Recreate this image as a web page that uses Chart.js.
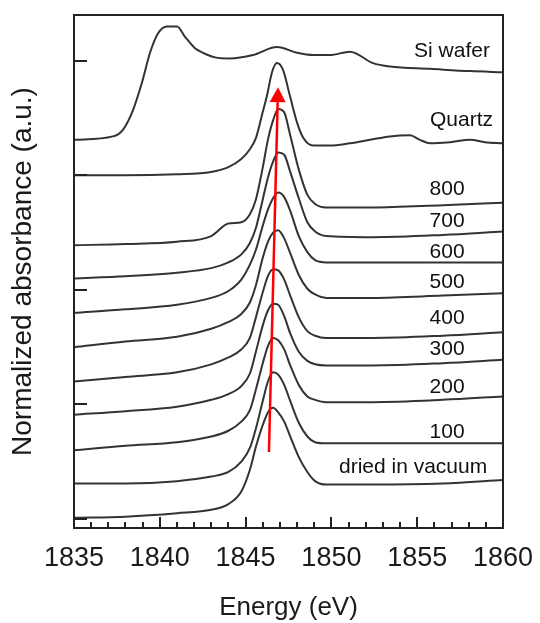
<!DOCTYPE html>
<html>
<head>
<meta charset="utf-8">
<script src="https://cdn.jsdelivr.net/npm/chart.js@4"></script>
<style>
  body { margin: 0; background: #fff; }
  #wrap { width: 540px; height: 623px; }
</style>
</head>
<body>
<div id="wrap"><canvas id="xanes"></canvas></div>
<script>
// ===== Data =====
// common energy grid for the heat-treated samples
const energy = [1835, 1838, 1841, 1843, 1844, 1844.75, 1845.25, 1845.6, 1846, 1846.3, 1846.6,
                1846.9, 1847.25, 1847.6, 1848.1, 1848.6, 1849.05, 1849.7, 1852.4, 1856.5, 1860];

const dried = [0.01, 0.02, 0.05, 0.08, 0.13, 0.24, 0.43, 0.63, 0.82, 0.93, 0.97,
               0.93, 0.85, 0.72, 0.54, 0.41, 0.33, 0.30, 0.30, 0.31, 0.34];
const t100  = [0.31, 0.31, 0.33, 0.37, 0.41, 0.50, 0.62, 0.79, 1.03, 1.20, 1.28,
               1.26, 1.17, 1.03, 0.84, 0.72, 0.67, 0.66, 0.66, 0.66, 0.66];
const t200  = [0.60, 0.64, 0.67, 0.72, 0.77, 0.85, 0.95, 1.13, 1.36, 1.51, 1.58,
               1.56, 1.48, 1.34, 1.17, 1.07, 1.04, 1.02, 1.02, 1.04, 1.07];
const t300  = [0.91, 0.94, 0.98, 1.04, 1.09, 1.16, 1.27, 1.46, 1.69, 1.82, 1.88,
               1.87, 1.77, 1.62, 1.46, 1.38, 1.35, 1.34, 1.34, 1.36, 1.39];
const t400  = [1.20, 1.24, 1.28, 1.35, 1.41, 1.48, 1.58, 1.76, 1.98, 2.12, 2.18,
               2.17, 2.09, 1.95, 1.76, 1.64, 1.60, 1.58, 1.58, 1.60, 1.63];
const t500  = [1.50, 1.55, 1.59, 1.66, 1.72, 1.79, 1.89, 2.04, 2.28, 2.42, 2.50,
               2.52, 2.45, 2.32, 2.13, 2.01, 1.96, 1.93, 1.93, 1.95, 1.97];
const t600  = [1.80, 1.83, 1.87, 1.93, 1.99, 2.09, 2.22, 2.35, 2.56, 2.70, 2.80,
               2.85, 2.81, 2.69, 2.47, 2.33, 2.26, 2.24, 2.24, 2.24, 2.24];
const t700  = [2.10, 2.12, 2.15, 2.19, 2.24, 2.31, 2.41, 2.54, 2.79, 2.98, 3.12,
               3.20, 3.18, 3.03, 2.80, 2.59, 2.51, 2.47, 2.46, 2.48, 2.51];
const t800  = [2.39, 2.40, 2.42, 2.47, 2.58, 2.59, 2.66, 2.79, 3.07, 3.31, 3.48,
               3.58, 3.55, 3.35, 3.05, 2.83, 2.75, 2.72, 2.72, 2.74, 2.76];

// reference spectra have their own grids
const quartzEnergy = [1835, 1837.97, 1841, 1842.98, 1843.97, 1844.73, 1845.26, 1845.61, 1845.96, 1846.25,
                      1846.54, 1846.83, 1847.18, 1847.59, 1848, 1848.35, 1848.93, 1849.92, 1851.08, 1852.25,
                      1853.41, 1854.58, 1855.16, 1855.75, 1856.91, 1858.08, 1858.95, 1860];
const quartz = [3.00, 3.00, 3.01, 3.03, 3.07, 3.14, 3.23, 3.33, 3.53, 3.70,
                3.90, 3.98, 3.92, 3.69, 3.46, 3.33, 3.26, 3.26, 3.28, 3.31,
                3.34, 3.35, 3.31, 3.28, 3.29, 3.31, 3.29, 3.28];

const siEnergy = [1835, 1837.27, 1837.86, 1838.44, 1838.96, 1839.43, 1839.9, 1840.42, 1841, 1841.47,
                  1842.05, 1842.52, 1843.22, 1844.09, 1845.43, 1846.83, 1848, 1848.93, 1849.92, 1851.08,
                  1852.42, 1853.41, 1855.75, 1858.08, 1860];
const siWafer = [3.31, 3.34, 3.40, 3.57, 3.81, 4.07, 4.24, 4.30, 4.30, 4.21,
                 4.11, 4.07, 4.03, 4.02, 4.05, 4.12, 4.07, 4.05, 4.05, 4.08,
                 3.98, 3.95, 3.93, 3.91, 3.90];

// curve labels and where they sit (energy, absorbance)
const seriesNames = ["Si wafer", "Quartz", "800", "700", "600", "500", "400", "300", "200", "100", "dried in vacuum"];
const labelX = [1857.03, 1857.58, 1856.74, 1856.74, 1856.74, 1856.74, 1856.74, 1856.74, 1856.74, 1856.74, 1854.76];
const labelY = [4.08, 3.48, 2.88, 2.60, 2.33, 2.07, 1.75, 1.48, 1.15, 0.76, 0.45];

// shift arrow: [energy, absorbance]
const arrowFrom = [1846.36, 0.585];
const arrowTo = [1846.89, 3.77];

const xTicks = [1835, 1840, 1845, 1850, 1855, 1860];
const yTicks = [0, 1, 2, 3, 4];

// ===== Build datasets =====
const toPts = (xs, ys) => xs.map((x, i) => ({ x: x, y: ys[i] }));
const curves = [
    toPts(siEnergy, siWafer), toPts(quartzEnergy, quartz),
    toPts(energy, t800), toPts(energy, t700), toPts(energy, t600), toPts(energy, t500),
    toPts(energy, t400), toPts(energy, t300), toPts(energy, t200), toPts(energy, t100),
    toPts(energy, dried)
];

const datasets = curves.map((pts, i) => ({
    label: seriesNames[i],
    data: pts,
    borderColor: "#333",
    borderWidth: 2,
    pointRadius: 0,
    fill: false,
    cubicInterpolationMode: "monotone"
}));

// ===== Frame, inward ticks, labels, arrow =====
const decor = {
    id: "decor",
    afterDatasetsDraw(chart) {
        const { ctx, chartArea: a, scales: { x, y } } = chart;
        ctx.save();
        ctx.strokeStyle = "#222";
        ctx.lineWidth = 2;
        ctx.strokeRect(a.left, a.top, a.right - a.left, a.bottom - a.top);

        // x ticks pointing in
        ctx.beginPath();
        for (let e = 1836; e < 1860; e++) {
            const px = Math.round(x.getPixelForValue(e));
            const len = e % 5 === 0 ? 11 : 6;
            ctx.moveTo(px, a.bottom);
            ctx.lineTo(px, a.bottom - len);
        }
        // y ticks pointing in
        yTicks.forEach(v => {
            const py = Math.round(y.getPixelForValue(v));
            ctx.moveTo(a.left, py);
            ctx.lineTo(a.left + 13, py);
        });
        ctx.stroke();

        // curve labels
        ctx.fillStyle = "#111";
        ctx.font = "21px 'Liberation Sans', Arial, sans-serif";
        ctx.textAlign = "center";
        ctx.textBaseline = "middle";
        seriesNames.forEach((name, i) => {
            ctx.fillText(name, x.getPixelForValue(labelX[i]), y.getPixelForValue(labelY[i]));
        });

        // red arrow
        const x0 = x.getPixelForValue(arrowFrom[0]), y0 = y.getPixelForValue(arrowFrom[1]);
        const x1 = x.getPixelForValue(arrowTo[0]), y1 = y.getPixelForValue(arrowTo[1]);
        const ang = Math.atan2(y1 - y0, x1 - x0);
        const headLen = 15, headHalf = 8;
        const bx = x1 - headLen * Math.cos(ang), by = y1 - headLen * Math.sin(ang);
        ctx.strokeStyle = "#ff0000";
        ctx.fillStyle = "#ff0000";
        ctx.lineWidth = 2.5;
        ctx.beginPath();
        ctx.moveTo(x0, y0);
        ctx.lineTo(bx, by);
        ctx.stroke();
        ctx.beginPath();
        ctx.moveTo(x1, y1);
        ctx.lineTo(bx + headHalf * Math.sin(ang), by - headHalf * Math.cos(ang));
        ctx.lineTo(bx - headHalf * Math.sin(ang), by + headHalf * Math.cos(ang));
        ctx.closePath();
        ctx.fill();
        ctx.restore();
    }
};

// ===== Chart =====
new Chart(document.getElementById("xanes"), {
    type: "line",
    data: { datasets: datasets },
    options: {
        responsive: true,
        maintainAspectRatio: false,
        animation: false,
        layout: { padding: { left: 0, right: 37, top: 15, bottom: 0 } },
        plugins: { legend: { display: false }, tooltip: { enabled: false } },
        scales: {
            x: {
                type: "linear",
                min: 1835,
                max: 1860,
                afterFit: s => { s.height = 95; s.paddingLeft = 0; s.paddingRight = 0; },
                afterBuildTicks: s => { s.ticks = xTicks.map(v => ({ value: v })); },
                grid: { display: false, drawTicks: false },
                border: { display: false },
                ticks: {
                    padding: 14,
                    color: "#1a1a1a",
                    callback: v => String(v),
                    font: { family: "'Liberation Sans', Arial, sans-serif", size: 27 }
                },
                title: {
                    display: true,
                    text: "Energy (eV)",
                    color: "#1a1a1a",
                    padding: { top: 0, bottom: 0 },
                    font: { family: "'Liberation Sans', Arial, sans-serif", size: 26 }
                }
            },
            y: {
                min: -0.079,
                max: 4.40,
                afterFit: s => { s.width = 74; },
                grid: { display: false, drawTicks: false },
                border: { display: false },
                ticks: { display: false },
                title: {
                    display: true,
                    text: "Normalized absorbance (a.u.)",
                    color: "#1a1a1a",
                    padding: { top: 6, bottom: 0 },
                    font: { family: "'Liberation Sans', Arial, sans-serif", size: 28 }
                }
            }
        }
    },
    plugins: [decor]
});
</script>
</body>
</html>
